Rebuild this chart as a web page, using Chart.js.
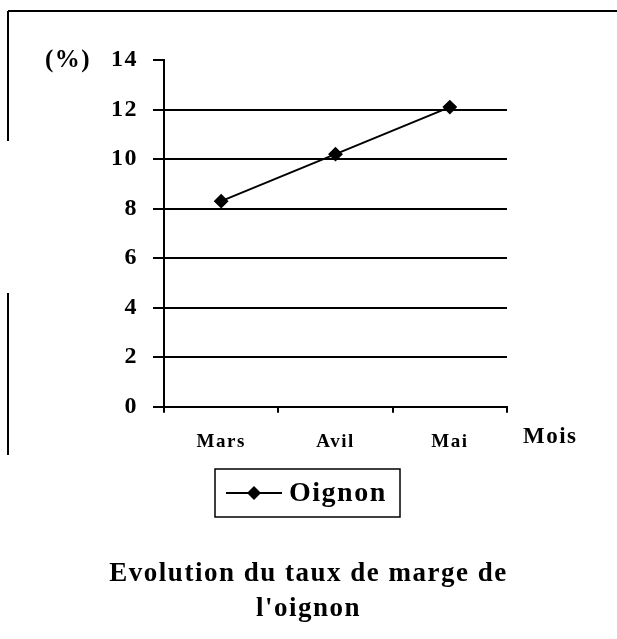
<!DOCTYPE html>
<html>
<head>
<meta charset="utf-8">
<script src="https://cdn.jsdelivr.net/npm/chart.js@4/dist/chart.umd.min.js"></script>
<style>
  html, body { margin: 0; padding: 0; background: #fff; }
  #wrap { width: 617px; height: 639px; }
</style>
</head>
<body>
<div id="wrap"><canvas id="chart" width="617" height="639"></canvas></div>
<script>
const months = ['Mars', 'Avil', 'Mai'];
const oignon = [8.3, 10.2, 12.1];
const seriesLabel = 'Oignon';
const yUnit = '(%)';
const xTitle = 'Mois';
const titleLines = ['Evolution du taux de marge de', "l'oignon"];

const FONT = "'Liberation Serif', 'Times New Roman', serif";
const SPACING = '1.5px'; // the scanned original is a bit stretched sideways

// wide letters everywhere (canvas state is reset on resize, so set it each time)
const spacing = {
  id: 'spacing',
  beforeUpdate(chart){ chart.ctx.letterSpacing = SPACING; },
  beforeDraw(chart){ chart.ctx.letterSpacing = SPACING; }
};

// frame, axis captions and boxed legend drawn on top of the chart
const extras = {
  id: 'extras',
  afterDraw(chart){
    const ctx = chart.ctx;
    const area = chart.chartArea;
    const yScale = chart.scales.y;
    ctx.save();
    ctx.strokeStyle = '#000';
    ctx.lineWidth = 2;
    ctx.beginPath();
    ctx.moveTo(8, 11); ctx.lineTo(617, 11);
    ctx.moveTo(8, 11); ctx.lineTo(8, 141);
    ctx.moveTo(8, 293); ctx.lineTo(8, 455);
    ctx.stroke();

    ctx.fillStyle = '#000';
    ctx.font = 'bold 25px ' + FONT;
    ctx.textBaseline = 'middle';
    ctx.textAlign = 'left';
    ctx.fillText(yUnit, 45, yScale.getPixelForValue(14) + 1);
    ctx.font = 'bold 23px ' + FONT;
    ctx.fillText(xTitle, area.right + 16, area.bottom + 30);

    // legend
    const lx = 215, ly = 469, lw = 185, lh = 48;
    const cy = ly + lh / 2;
    ctx.lineWidth = 1.5;
    ctx.strokeRect(lx, ly, lw, lh);
    ctx.lineWidth = 2;
    ctx.beginPath();
    ctx.moveTo(lx + 11, cy); ctx.lineTo(lx + 67, cy);
    ctx.stroke();
    ctx.beginPath();
    ctx.moveTo(lx + 39, cy - 7); ctx.lineTo(lx + 46, cy);
    ctx.lineTo(lx + 39, cy + 7); ctx.lineTo(lx + 32, cy);
    ctx.closePath();
    ctx.fill();
    ctx.font = 'bold 28px ' + FONT;
    ctx.fillText(chart.data.datasets[0].label, lx + 74, cy + 1);
    ctx.restore();
  }
};

new Chart(document.getElementById('chart'), {
  type: 'line',
  data: {
    labels: months,
    datasets: [{
      label: seriesLabel,
      data: oignon,
      borderColor: '#000',
      backgroundColor: '#000',
      borderWidth: 2,
      pointStyle: 'rectRot',
      pointRadius: 6,
      pointHoverRadius: 6,
      tension: 0
    }]
  },
  options: {
    responsive: false,
    animation: false,
    layout: { padding: { left: 0, right: 0, top: 60, bottom: 0 } },
    plugins: {
      legend: { display: false },
      tooltip: { enabled: false },
      title: {
        display: true,
        position: 'bottom',
        text: titleLines,
        color: '#000',
        font: { family: FONT, size: 27, weight: 'bold', lineHeight: 1.3 },
        padding: { top: 0, bottom: 12 }
      }
    },
    scales: {
      x: {
        offset: true,
        afterFit(scale){ scale.height = 150; },
        border: { display: true, color: '#000', width: 2 },
        grid: { drawOnChartArea: false, offset: true, tickLength: 6, tickColor: '#000', lineWidth: 2 },
        ticks: { color: '#000', padding: 18, font: { family: FONT, size: 19, weight: 'bold' } }
      },
      y: {
        min: 0,
        max: 14,
        afterFit(scale){ scale.width = 164; },
        border: { display: true, color: '#000', width: 2 },
        grid: {
          color: ctx => (ctx.tick && (ctx.tick.value === 14 || ctx.tick.value === 0)) ? 'rgba(0,0,0,0)' : '#000',
          tickColor: '#000',
          tickLength: 11,
          lineWidth: 2
        },
        ticks: { stepSize: 2, color: '#000', padding: 15, font: { family: FONT, size: 24, weight: 'bold' } }
      },
      // empty right-hand gutter so the plot stops short of the "Mois" caption
      gutter: {
        type: 'linear',
        position: 'right',
        afterFit(scale){ scale.width = 110; },
        border: { display: false },
        grid: { display: false },
        ticks: { display: false }
      }
    }
  },
  plugins: [spacing, extras]
});
</script>
</body>
</html>
